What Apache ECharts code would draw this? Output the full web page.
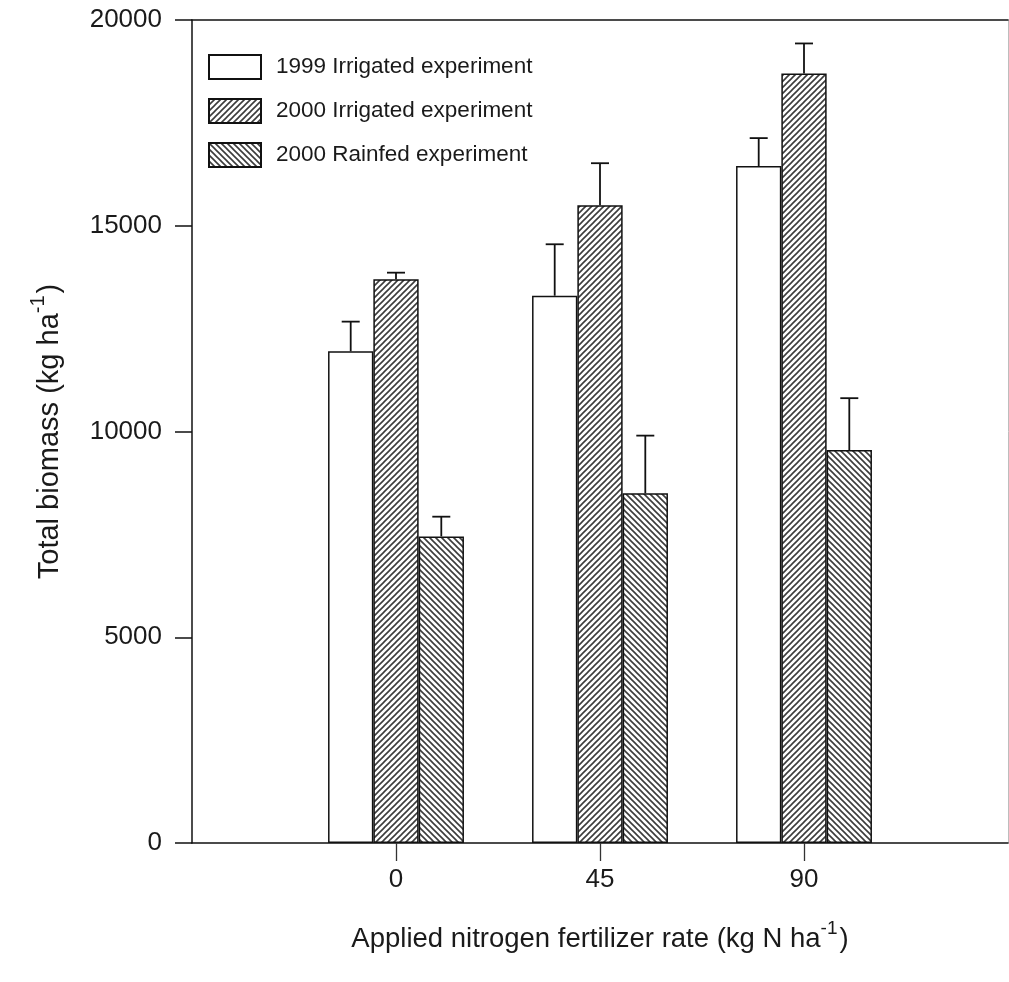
<!DOCTYPE html>
<html>
<head>
<meta charset="utf-8">
<title>Total biomass vs applied nitrogen</title>
<script src="https://cdn.jsdelivr.net/npm/echarts@6/dist/echarts.min.js"></script>
<style>
  html, body { margin: 0; padding: 0; background: #fff; }
  #chart { width: 1009px; height: 982px; }
</style>
</head>
<body>
<div id="chart"></div>
<script>
// Nitrogen rates (kg N/ha) used as x positions, and their tick labels
const nRates = [0, 45, 90];
const rateLabels = ['0', '45', '90'];

// Series names
const seriesNames = ['1999 Irrigated experiment', '2000 Irrigated experiment', '2000 Rainfed experiment'];

// Total biomass means (kg/ha)
const irrigated1999 = [11950, 13300, 16450];
const irrigated2000 = [13700, 15500, 18700];
const rainfed2000 = [7450, 8500, 9550];

// Upper error (standard error) for each mean
const irrigated1999Err = [720, 1250, 680];
const irrigated2000Err = [160, 1020, 730];
const rainfed2000Err = [480, 1400, 1260];

// Y-axis ticks
const yTicks = [0, 5000, 10000, 15000, 20000];

const FONT = '"Liberation Sans", Arial, sans-serif';
const BAR_W = 45.3;
const CAP_W = 18;

// Diagonal hatch fill; dir = 1 draws "/" lines, dir = -1 draws "\" lines
function hatch(dir, color, size, lw) {
  const c = document.createElement('canvas');
  c.width = size; c.height = size;
  const g = c.getContext('2d');
  g.fillStyle = '#fff';
  g.fillRect(0, 0, size, size);
  g.strokeStyle = color;
  g.lineWidth = lw;
  g.beginPath();
  if (dir > 0) {
    g.moveTo(-1, size + 1); g.lineTo(size + 1, -1);
    g.moveTo(-1, 1); g.lineTo(1, -1);
    g.moveTo(size - 1, size + 1); g.lineTo(size + 1, size - 1);
  } else {
    g.moveTo(-1, -1); g.lineTo(size + 1, size + 1);
    g.moveTo(size - 1, -1); g.lineTo(size + 1, 1);
    g.moveTo(-1, size - 1); g.lineTo(1, size + 1);
  }
  g.stroke();
  return { image: c, repeat: 'repeat' };
}

const fills = [
  '#ffffff',
  hatch(1, '#3c3c3c', 6, 1.6),
  hatch(-1, '#3c3c3c', 6, 1.6)
];
const values = [irrigated1999, irrigated2000, rainfed2000];
const errors = [irrigated1999Err, irrigated2000Err, rainfed2000Err];

const barSeries = values.map((vals, i) => ({
  name: seriesNames[i],
  type: 'bar',
  xAxisIndex: 0,
  yAxisIndex: 0,
  barWidth: BAR_W,
  barGap: '0%',
  data: nRates.map((r, j) => [r, vals[j]]),
  itemStyle: { color: fills[i], borderColor: '#111', borderWidth: 1.5 },
  emphasis: { disabled: true },
  animation: false
}));

// Upper error whiskers, offset to sit over each bar of the group
const errSeries = values.map((vals, i) => ({
  type: 'custom',
  xAxisIndex: 0,
  yAxisIndex: 0,
  silent: true,
  animation: false,
  z: 3,
  data: nRates.map((r, j) => [r, vals[j], vals[j] + errors[i][j]]),
  renderItem: function (params, api) {
    const off = (i - 1) * BAR_W;
    const base = api.coord([api.value(0), api.value(1)]);
    const top = api.coord([api.value(0), api.value(2)]);
    const x = base[0] + off;
    const st = { stroke: '#111', lineWidth: 1.8 };
    return {
      type: 'group',
      children: [
        { type: 'line', shape: { x1: x, y1: base[1], x2: x, y2: top[1] }, style: st },
        { type: 'line', shape: { x1: x - CAP_W / 2, y1: top[1], x2: x + CAP_W / 2, y2: top[1] }, style: st }
      ]
    };
  }
}));

const chart = echarts.init(document.getElementById('chart'), null, { renderer: 'canvas' });

chart.setOption({
  backgroundColor: '#ffffff',
  animation: false,
  textStyle: { fontFamily: FONT, color: '#1a1a1a' },
  grid: { left: 192, right: 1, top: 20, bottom: 139, containLabel: false },
  legend: {
    orient: 'vertical',
    left: 203,
    top: 49,
    itemWidth: 52,
    itemHeight: 24,
    itemGap: 18,
    icon: 'rect',
    selectedMode: false,
    data: seriesNames,
    textStyle: { fontFamily: FONT, fontSize: 22.5, color: '#1a1a1a', padding: [0, 0, 0, 10] }
  },
  xAxis: [
    {
      type: 'value',
      position: 'bottom',
      min: -45,
      max: 135,
      axisLine: { show: true, onZero: false, lineStyle: { color: '#111', width: 1.5 } },
      axisTick: { show: true, customValues: nRates, length: 18, lineStyle: { color: '#333', width: 1.3 } },
      axisLabel: {
        customValues: nRates,
        formatter: (v) => rateLabels[nRates.indexOf(v)] ?? '',
        fontFamily: FONT, fontSize: 26, color: '#1a1a1a', margin: 24
      },
      splitLine: { show: false },
      name: '{t|Applied nitrogen fertilizer rate (kg N ha}{s|-1}{t|)}',
      nameLocation: 'middle',
      nameGap: 76,
      nameTextStyle: {
        rich: {
          t: { fontFamily: FONT, fontSize: 27.5, color: '#1a1a1a', lineHeight: 34, verticalAlign: 'bottom' },
          s: { fontFamily: FONT, fontSize: 19, color: '#1a1a1a', lineHeight: 34, verticalAlign: 'top', padding: [0, 2, 0, 0] }
        }
      }
    },
    {
      type: 'value',
      position: 'top',
      min: -45,
      max: 135,
      axisLine: { show: true, onZero: false, lineStyle: { color: '#111', width: 1.5 } },
      axisTick: { show: false },
      axisLabel: { show: false },
      splitLine: { show: false }
    }
  ],
  yAxis: [
    {
      type: 'value',
      position: 'left',
      min: yTicks[0],
      max: yTicks[yTicks.length - 1],
      interval: 5000,
      axisLine: { show: true, onZero: false, lineStyle: { color: '#111', width: 1.5 } },
      axisTick: { show: true, length: 17, lineStyle: { color: '#111', width: 1.5 } },
      axisLabel: {
        fontFamily: FONT, fontSize: 26, color: '#1a1a1a', margin: 30,
        formatter: (v) => String(v)
      },
      splitLine: { show: false },
      name: '{t|Total biomass (kg ha}{s|-1}{t|)}',
      nameLocation: 'middle',
      nameRotate: 90,
      nameGap: 128,
      nameTextStyle: {
        rich: {
          t: { fontFamily: FONT, fontSize: 29, color: '#1a1a1a', lineHeight: 36, verticalAlign: 'bottom' },
          s: { fontFamily: FONT, fontSize: 20, color: '#1a1a1a', lineHeight: 36, verticalAlign: 'top', padding: [0, 2, 0, 0] }
        }
      }
    },
    {
      type: 'value',
      position: 'right',
      min: yTicks[0],
      max: yTicks[yTicks.length - 1],
      axisLine: { show: true, onZero: false, lineStyle: { color: '#bdbdbd', width: 1 } },
      axisTick: { show: false },
      axisLabel: { show: false },
      splitLine: { show: false }
    }
  ],
  series: barSeries.concat(errSeries)
});
</script>
</body>
</html>
